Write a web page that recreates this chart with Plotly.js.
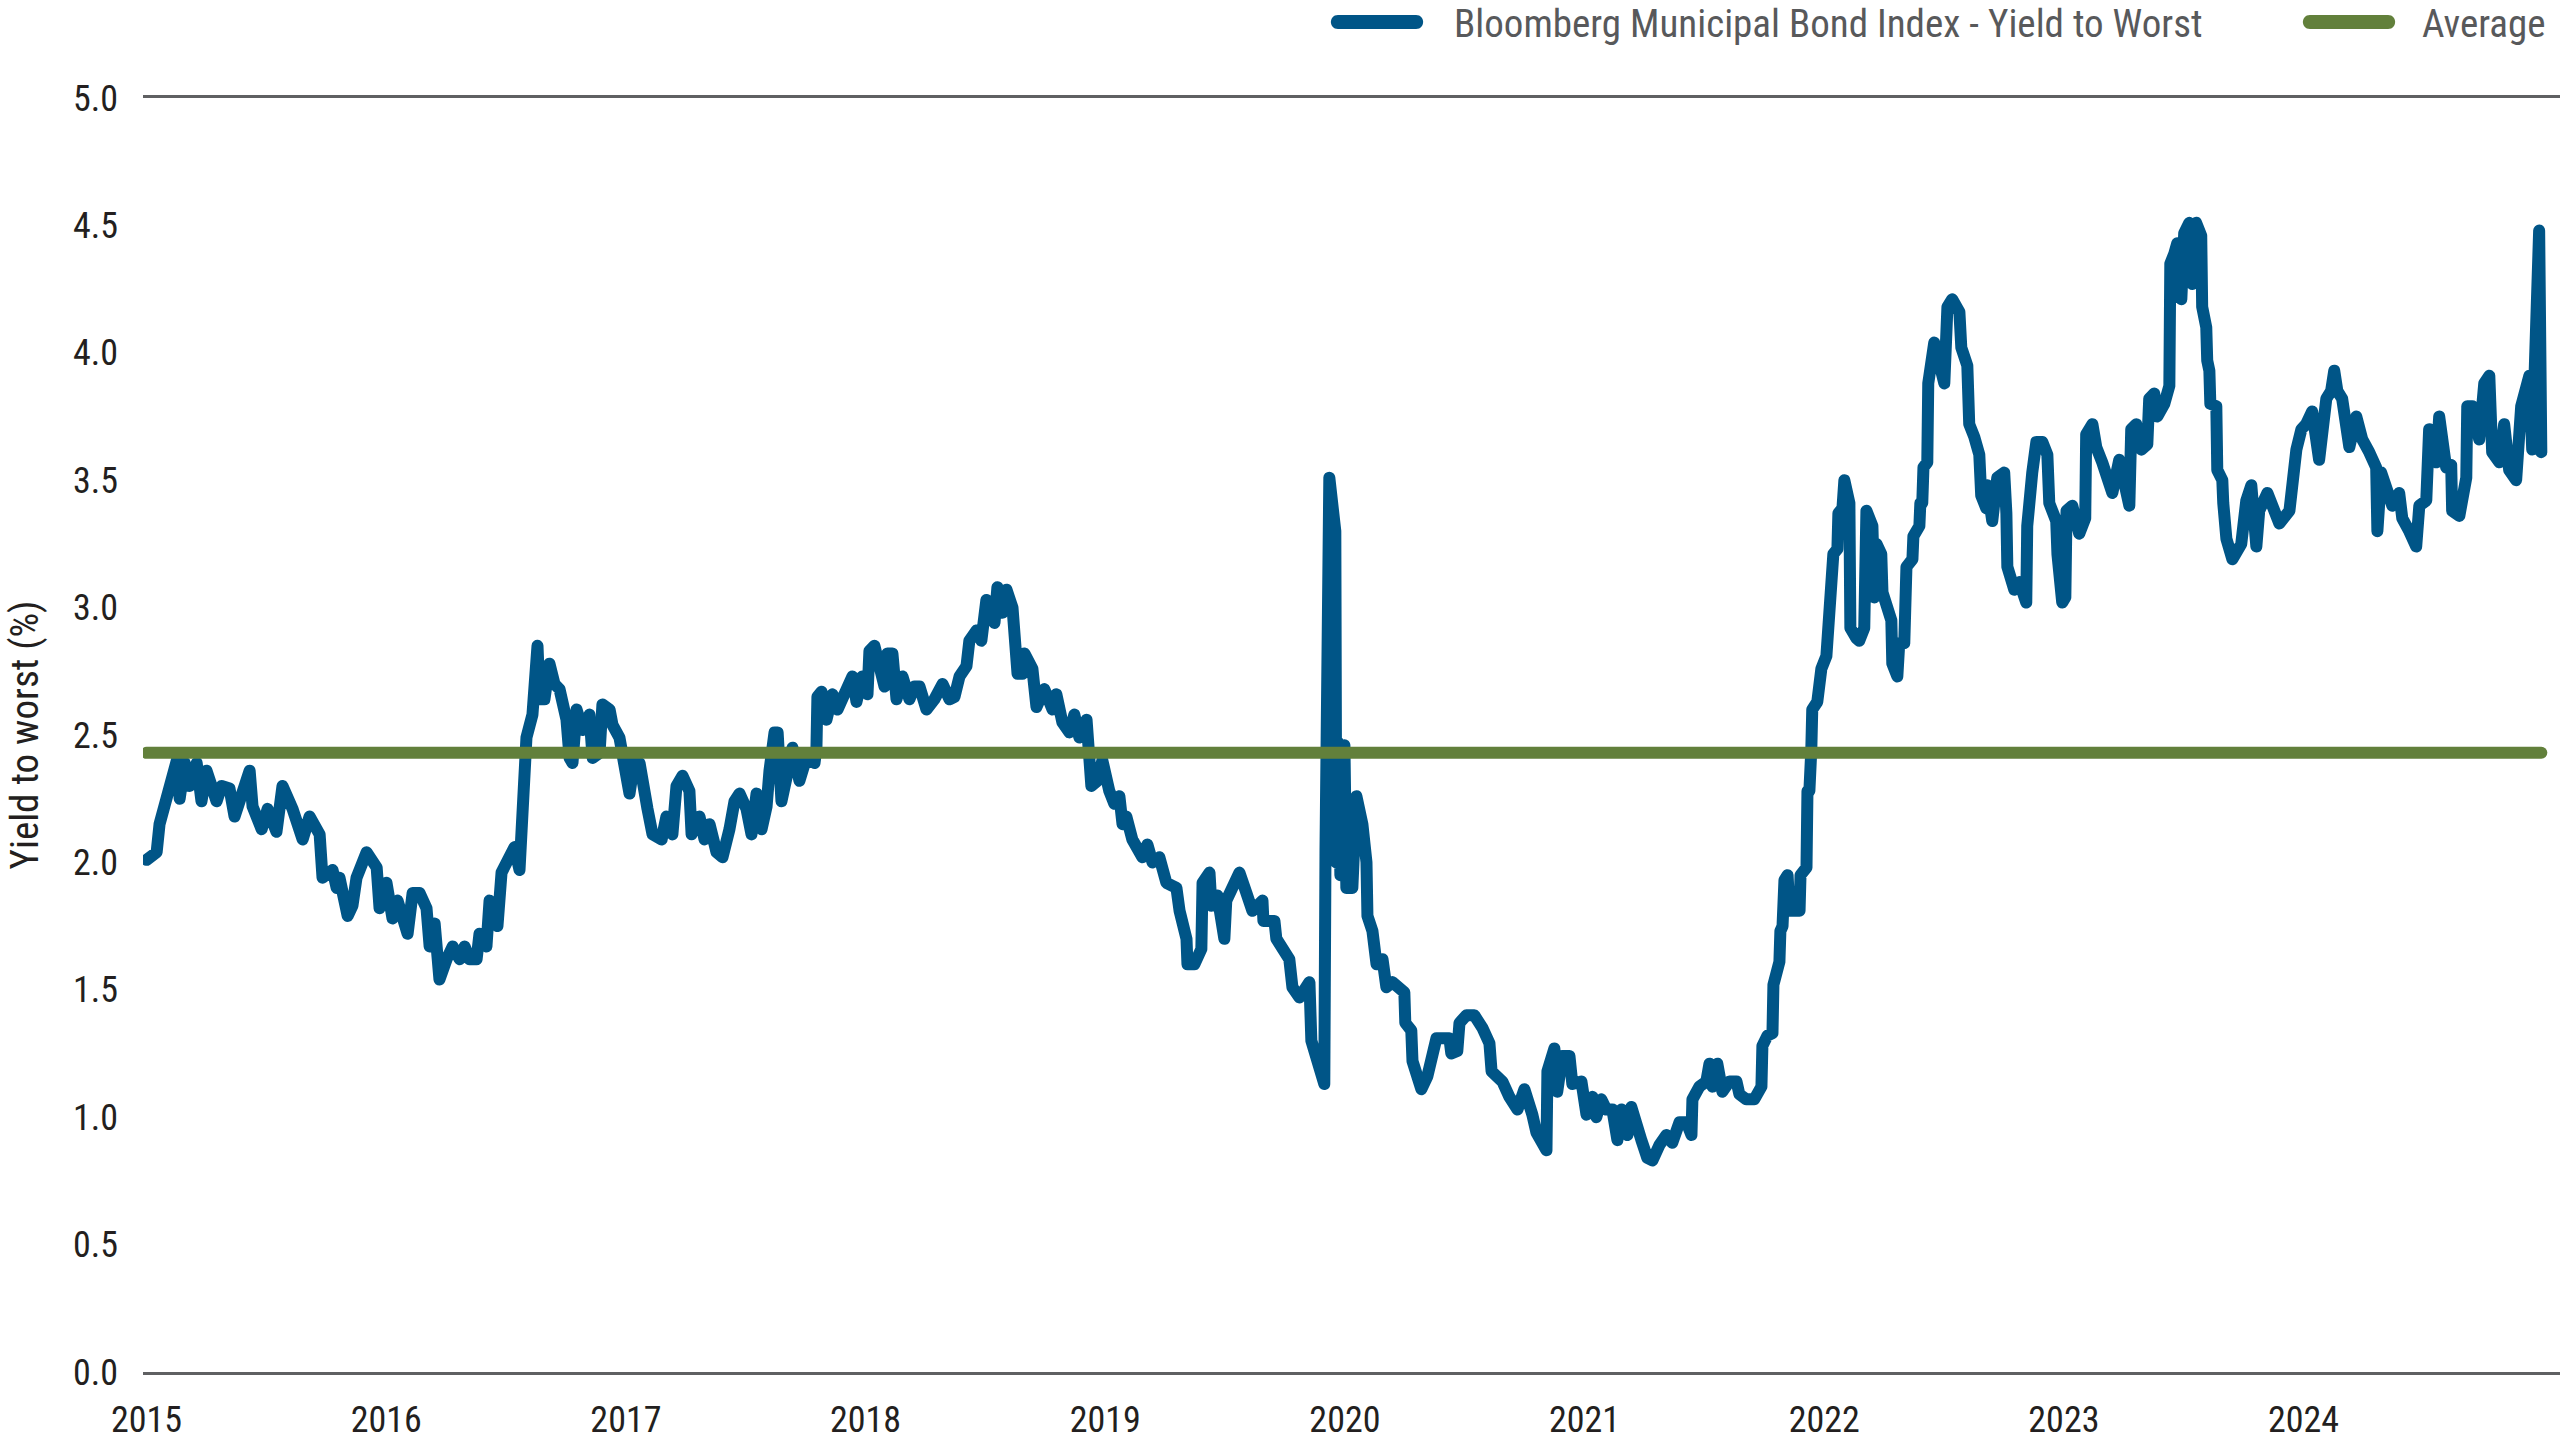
<!DOCTYPE html>
<html>
<head>
<meta charset="utf-8">
<script src="https://cdn.plot.ly/plotly-3.0.1.min.js"></script>
<style>
html,body{margin:0;padding:0;background:#fff;}
#chart{width:2560px;height:1440px;}
.scatterlayer .js-line{stroke-linejoin:round;stroke-linecap:round;}
</style>
</head>
<body>
<div id="chart"></div>
<script>
// ---- Data (decimal years, yield to worst in %) ----
const years = [
2015.000,2015.042,2015.054,2015.083,2015.104,2015.129,2015.138,2015.159,2015.179,2015.209,
2015.229,2015.250,2015.292,2015.313,2015.346,2015.367,2015.430,2015.442,2015.480,2015.505,
2015.542,2015.567,2015.609,2015.651,2015.680,2015.722,2015.734,2015.776,2015.793,2015.805,
2015.839,2015.859,2015.876,2015.918,2015.960,2015.972,2016.001,2016.026,2016.047,2016.089,
2016.110,2016.139,2016.168,2016.181,2016.202,2016.210,2016.222,2016.252,2016.277,2016.306,
2016.327,2016.348,2016.377,2016.389,2016.418,2016.431,2016.464,2016.481,2016.514,2016.535,
2016.556,2016.569,2016.585,2016.610,2016.631,2016.640,2016.660,2016.681,2016.702,2016.723,
2016.752,2016.765,2016.777,2016.794,2016.819,2016.848,2016.861,2016.890,2016.902,2016.932,
2016.944,2016.973,2016.994,2017.015,2017.036,2017.057,2017.090,2017.111,2017.149,2017.169,
2017.194,2017.211,2017.236,2017.265,2017.274,2017.307,2017.328,2017.349,2017.378,2017.403,
2017.432,2017.453,2017.474,2017.503,2017.524,2017.545,2017.566,2017.587,2017.599,2017.620,
2017.633,2017.649,2017.674,2017.695,2017.724,2017.753,2017.787,2017.795,2017.799,2017.816,
2017.837,2017.862,2017.883,2017.912,2017.945,2017.962,2017.987,2018.008,2018.016,2018.037,
2018.058,2018.079,2018.091,2018.112,2018.129,2018.154,2018.183,2018.204,2018.225,2018.254,
2018.287,2018.321,2018.350,2018.371,2018.392,2018.421,2018.433,2018.463,2018.483,2018.492,
2018.504,2018.517,2018.538,2018.550,2018.571,2018.588,2018.613,2018.634,2018.655,2018.663,
2018.696,2018.713,2018.746,2018.780,2018.796,2018.821,2018.851,2018.871,2018.892,2018.922,
2018.942,2018.967,2018.988,2019.017,2019.038,2019.059,2019.072,2019.088,2019.113,2019.155,
2019.176,2019.197,2019.226,2019.255,2019.297,2019.310,2019.339,2019.343,2019.372,2019.401,
2019.406,2019.435,2019.443,2019.468,2019.497,2019.505,2019.531,2019.560,2019.589,2019.614,
2019.656,2019.660,2019.706,2019.714,2019.768,2019.781,2019.810,2019.852,2019.860,2019.893,
2019.914,2019.919,2019.935,2019.960,2019.964,2019.973,2019.981,2019.998,2020.006,2020.031,
2020.048,2020.073,2020.090,2020.094,2020.115,2020.124,2020.132,2020.157,2020.173,2020.198,
2020.227,2020.248,2020.252,2020.277,2020.282,2020.319,2020.344,2020.365,2020.382,2020.436,
2020.444,2020.469,2020.478,2020.507,2020.540,2020.574,2020.603,2020.612,2020.632,2020.657,
2020.686,2020.720,2020.749,2020.770,2020.782,2020.799,2020.841,2020.845,2020.874,2020.886,
2020.907,2020.937,2020.949,2020.987,2021.008,2021.033,2021.049,2021.070,2021.091,2021.116,
2021.137,2021.154,2021.179,2021.195,2021.216,2021.237,2021.262,2021.283,2021.312,2021.341,
2021.366,2021.396,2021.425,2021.446,2021.450,2021.479,2021.508,2021.521,2021.533,2021.554,
2021.575,2021.604,2021.634,2021.646,2021.675,2021.708,2021.738,2021.742,2021.763,2021.784,
2021.788,2021.801,2021.813,2021.817,2021.826,2021.834,2021.847,2021.855,2021.897,2021.901,
2021.926,2021.930,2021.938,2021.946,2021.950,2021.971,2021.988,2022.009,2022.013,2022.021,
2022.025,2022.034,2022.038,2022.055,2022.059,2022.076,2022.084,2022.105,2022.109,2022.134,
2022.146,2022.167,2022.176,2022.201,2022.209,2022.218,2022.238,2022.243,2022.259,2022.280,
2022.284,2022.305,2022.313,2022.334,2022.343,2022.368,2022.372,2022.397,2022.401,2022.409,
2022.414,2022.430,2022.434,2022.459,2022.480,2022.501,2022.514,2022.534,2022.564,2022.572,
2022.597,2022.605,2022.626,2022.647,2022.655,2022.676,2022.680,2022.701,2022.722,2022.751,
2022.760,2022.764,2022.793,2022.814,2022.843,2022.847,2022.868,2022.885,2022.910,2022.931,
2022.939,2022.968,2022.973,2022.981,2022.993,2023.006,2023.011,2023.035,2023.064,2023.089,
2023.093,2023.119,2023.135,2023.160,2023.202,2023.231,2023.252,2023.273,2023.281,2023.302,
2023.323,2023.348,2023.356,2023.377,2023.390,2023.419,2023.440,2023.444,2023.461,2023.473,
2023.490,2023.502,2023.523,2023.536,2023.552,2023.573,2023.577,2023.594,2023.598,2023.607,
2023.611,2023.636,2023.640,2023.661,2023.665,2023.678,2023.703,2023.740,2023.761,2023.782,
2023.803,2023.815,2023.849,2023.870,2023.899,2023.941,2023.953,2023.970,2023.991,2024.011,
2024.036,2024.065,2024.095,2024.115,2024.128,2024.141,2024.161,2024.178,2024.191,2024.220,
2024.245,2024.274,2024.303,2024.308,2024.324,2024.349,2024.370,2024.399,2024.412,2024.441,
2024.470,2024.483,2024.512,2024.524,2024.554,2024.566,2024.595,2024.616,2024.620,2024.650,
2024.679,2024.683,2024.704,2024.733,2024.754,2024.775,2024.787,2024.817,2024.837,2024.858,
2024.887,2024.908,2024.929,2024.942,2024.954,2024.983,2024.992
];
const yieldToWorst = [
2.01,2.04,2.15,2.26,2.32,2.41,2.25,2.39,2.30,2.39,
2.24,2.36,2.24,2.30,2.29,2.18,2.36,2.22,2.13,2.21,
2.12,2.30,2.21,2.09,2.18,2.11,1.94,1.97,1.90,1.94,
1.79,1.83,1.94,2.04,1.98,1.82,1.92,1.78,1.85,1.72,
1.88,1.88,1.82,1.67,1.76,1.58,1.54,1.62,1.67,1.62,
1.67,1.62,1.62,1.72,1.67,1.85,1.75,1.96,2.04,2.06,
1.97,2.18,2.49,2.58,2.85,2.64,2.64,2.78,2.70,2.68,
2.56,2.41,2.39,2.60,2.52,2.58,2.41,2.43,2.62,2.60,
2.54,2.49,2.34,2.27,2.40,2.39,2.21,2.11,2.09,2.18,
2.11,2.30,2.34,2.28,2.11,2.18,2.09,2.15,2.04,2.02,
2.13,2.24,2.27,2.21,2.11,2.27,2.13,2.22,2.36,2.51,
2.51,2.24,2.35,2.45,2.32,2.41,2.39,2.45,2.65,2.67,
2.56,2.66,2.60,2.66,2.73,2.63,2.73,2.66,2.83,2.85,
2.74,2.69,2.82,2.82,2.64,2.73,2.64,2.69,2.69,2.60,
2.64,2.70,2.64,2.65,2.73,2.77,2.87,2.91,2.87,3.00,
3.03,2.97,2.94,3.08,2.98,3.07,3.00,2.74,2.74,2.82,
2.76,2.61,2.68,2.60,2.66,2.55,2.51,2.58,2.49,2.56,
2.30,2.32,2.40,2.28,2.23,2.26,2.15,2.18,2.09,2.02,
2.07,2.00,2.02,1.92,1.90,1.81,1.70,1.60,1.60,1.66,
1.92,1.96,1.83,1.87,1.70,1.85,1.90,1.96,1.88,1.81,
1.85,1.77,1.77,1.70,1.62,1.51,1.47,1.53,1.30,1.20,
1.13,2.05,3.51,3.30,2.00,2.47,1.95,2.46,1.90,1.90,
2.26,2.15,2.00,1.79,1.73,1.62,1.60,1.62,1.51,1.53,
1.51,1.49,1.37,1.34,1.22,1.11,1.16,1.27,1.31,1.31,
1.25,1.26,1.37,1.40,1.40,1.35,1.29,1.18,1.16,1.14,
1.08,1.03,1.11,1.06,1.01,0.94,0.87,1.18,1.27,1.10,
1.24,1.24,1.13,1.14,1.01,1.08,1.00,1.07,1.03,1.03,
0.91,1.03,0.93,1.04,0.96,0.91,0.84,0.83,0.89,0.93,
0.90,0.98,0.98,0.93,1.07,1.12,1.14,1.21,1.12,1.21,
1.10,1.14,1.14,1.09,1.07,1.07,1.12,1.28,1.32,1.33,
1.52,1.59,1.61,1.73,1.75,1.93,1.95,1.81,1.81,1.95,
1.98,2.28,2.28,2.44,2.60,2.63,2.76,2.81,2.88,2.88,
3.09,3.09,3.21,3.23,3.37,3.39,3.50,3.41,2.92,2.88,
2.87,2.92,3.38,3.32,3.04,3.25,3.21,3.06,3.00,2.95,
2.78,2.73,2.86,2.86,3.16,3.19,3.28,3.32,3.41,3.41,
3.55,3.57,3.88,4.04,3.96,3.88,4.18,4.21,4.16,4.02,
3.95,3.72,3.67,3.60,3.44,3.39,3.48,3.34,3.51,3.53,
3.37,3.16,3.07,3.10,3.02,3.32,3.53,3.65,3.65,3.60,
3.41,3.34,3.21,3.07,3.02,3.04,3.38,3.40,3.29,3.35,
3.68,3.72,3.63,3.57,3.45,3.58,3.46,3.40,3.70,3.72,
3.62,3.64,3.82,3.84,3.75,3.80,3.87,4.35,4.39,4.43,
4.21,4.47,4.51,4.27,4.51,4.46,4.18,4.10,3.97,3.93,
3.80,3.79,3.54,3.50,3.41,3.27,3.19,3.25,3.42,3.48,
3.24,3.38,3.45,3.41,3.33,3.38,3.49,3.62,3.70,3.72,
3.77,3.58,3.82,3.85,3.93,3.85,3.82,3.66,3.63,3.75,
3.66,3.61,3.55,3.30,3.53,3.46,3.40,3.45,3.35,3.30,
3.24,3.40,3.42,3.70,3.57,3.75,3.55,3.56,3.38,3.36,
3.51,3.79,3.79,3.66,3.88,3.91,3.61,3.57,3.72,3.54,
3.50,3.79,3.88,3.91,3.62,4.48,3.61
];
const averageYield = 2.43;
const seriesNames = ['Bloomberg Municipal Bond Index - Yield to Worst', 'Average'];
const yearTicks = [2015,2016,2017,2018,2019,2020,2021,2022,2023,2024];
const yearLabels = ['2015','2016','2017','2018','2019','2020','2021','2022','2023','2024'];

// ---- Styling ----
const BLUE = '#005587';
const GREEN = '#62803b';
const FONT = '"Roboto Condensed", "Liberation Sans Narrow", "DejaVu Sans Condensed", "Arial Narrow", sans-serif';
const W = 2560, H = 1440;
const M = {l:143, r:0, t:98, b:68};
const plotW = W - M.l - M.r, plotH = H - M.t - M.b;
const px2paperX = px => (px - M.l) / plotW;
const px2paperY = py => (H - M.b - py) / plotH;

const traces = [
  {
    x: years, y: yieldToWorst, type: 'scatter', mode: 'lines',
    name: seriesNames[0],
    line: {color: BLUE, width: 12},
    hoverinfo: 'x+y', showlegend: false
  },
  {
    x: [years[0], years[years.length-1]],
    y: [averageYield, averageYield],
    type: 'scatter', mode: 'lines',
    name: seriesNames[1],
    line: {color: GREEN, width: 12},
    showlegend: false
  }
];

const pill = 'M 7,-7 L 85,-7 C 94.5,-7 94.5,7 85,7 L 7,7 C -2.5,7 -2.5,-7 7,-7 Z';
const legendY = px2paperY(24);

const layout = {
  width: W, height: H,
  margin: M,
  paper_bgcolor: '#ffffff', plot_bgcolor: '#ffffff',
  font: {family: FONT, color: '#231f20', size: 36},
  showlegend: false,
  xaxis: {
    range: [2014.985, 2025.07],
    tickvals: yearTicks, ticktext: yearLabels,
    showgrid: false, zeroline: false,
    showline: true, mirror: true, linecolor: '#5f6062', linewidth: 3,
    ticks: '', ticklabelstandoff: 14,
    tickfont: {family: FONT, size: 36, color: '#231f20'}
  },
  yaxis: {
    range: [0, 5], dtick: 0.5, tick0: 0, tickformat: '.1f',
    showgrid: false, zeroline: false, showline: false,
    ticks: '', ticklabelstandoff: 24,
    tickfont: {family: FONT, size: 36, color: '#231f20'},
    title: {text: 'Yield to worst (%)', standoff: 22, font: {family: FONT, size: 39, color: '#231f20'}}
  },
  shapes: [
    {type:'path', xref:'paper', yref:'paper', xsizemode:'pixel', ysizemode:'pixel',
     xanchor: px2paperX(1331), yanchor: px2paperY(22), path: pill, fillcolor: BLUE, line:{width:0}},
    {type:'path', xref:'paper', yref:'paper', xsizemode:'pixel', ysizemode:'pixel',
     xanchor: px2paperX(2303), yanchor: px2paperY(22), path: pill, fillcolor: GREEN, line:{width:0}}
  ],
  annotations: [
    {xref:'paper', yref:'paper', x: px2paperX(1452), y: legendY, xanchor:'left', yanchor:'middle',
     text: seriesNames[0], showarrow:false, font:{family: FONT, size: 39, color:'#58595b'}},
    {xref:'paper', yref:'paper', x: px2paperX(2420), y: legendY, xanchor:'left', yanchor:'middle',
     text: seriesNames[1], showarrow:false, font:{family: FONT, size: 39, color:'#58595b'}}
  ]
};

Plotly.newPlot('chart', traces, layout, {displayModeBar: false, staticPlot: true});
</script>
</body>
</html>
